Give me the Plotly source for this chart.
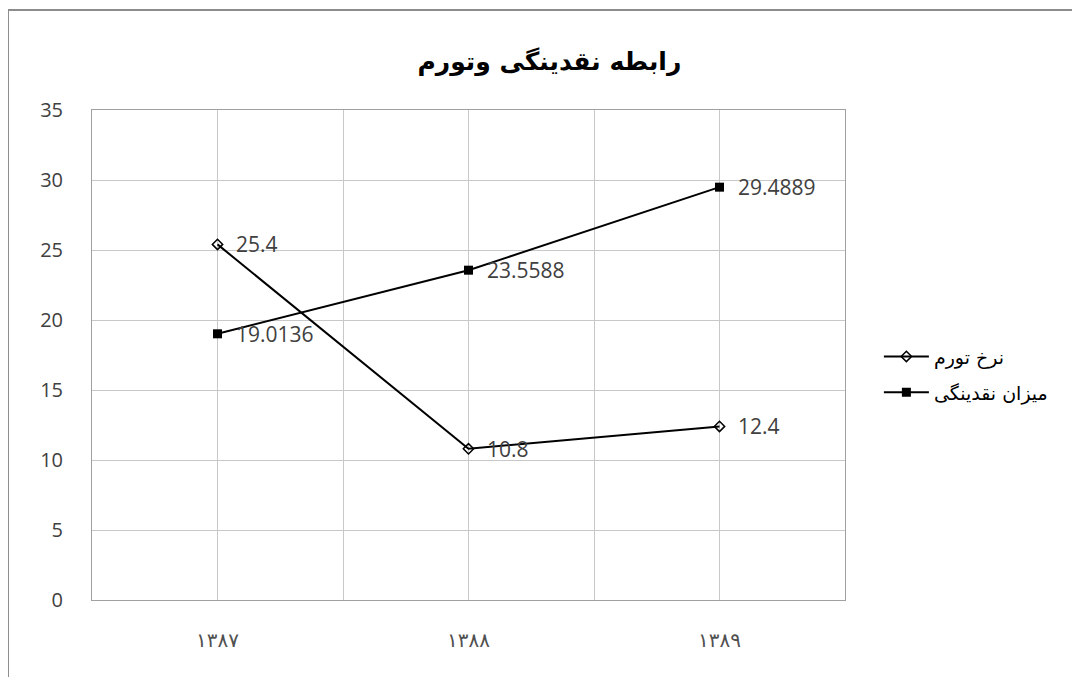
import plotly.graph_objects as go

categories = ["۱۳۸۷", "۱۳۸۸", "۱۳۸۹"]
inflation = [25.4, 10.8, 12.4]
liquidity = [19.0136, 23.5588, 29.4889]
series_names = ["نرخ تورم", "میزان نقدینگی"]
title_text = "رابطه نقدینگی وتورم"

xpos = list(range(len(categories)))

fig = go.Figure()
fig.add_trace(go.Scatter(
    x=xpos, y=inflation, name=series_names[0], mode="lines+markers", legendgroup="a",
    line=dict(color="black", width=2),
    marker=dict(symbol="diamond-open", size=8, color="black", line=dict(width=1.5, color="black")),
))
fig.add_trace(go.Scatter(
    x=xpos, y=liquidity, name=series_names[1], mode="lines+markers", legendgroup="b",
    line=dict(color="black", width=2),
    marker=dict(symbol="square", size=9, color="black"),
))

for series in (inflation, liquidity):
    for xi, v in zip(xpos, series):
        fig.add_annotation(x=xi, y=v, text=str(v), showarrow=False,
                           xanchor="left", yanchor="middle", xshift=16,
                           font=dict(family="Open Sans", size=21, color="#404040"))

tickvals = [i / 2 - 0.5 for i in range(2 * len(categories) + 1)]
ticktext = []
for t in tickvals:
    if float(t).is_integer():
        ticktext.append(categories[int(t)])
    else:
        ticktext.append("")

fig.update_layout(
    width=1072, height=669,
    margin=dict(l=84, r=235, t=102, b=77),
    paper_bgcolor="white", plot_bgcolor="white",
    title=dict(text="<b>" + title_text + "</b>", x=0.505, xanchor="center", y=0.92, yanchor="middle",
               font=dict(family="DejaVu Sans", size=25, color="black")),
    xaxis=dict(range=[-0.5, 2.5], tickvals=tickvals, ticktext=ticktext,
               showgrid=True, gridcolor="#c8c8c8", gridwidth=1,
               showline=True, linecolor="#a0a0a0", linewidth=1, mirror=True,
               ticks="outside", ticklen=22, tickcolor="rgba(0,0,0,0)",
               tickfont=dict(family="DejaVu Sans", size=20, color="#505050"),
               zeroline=False),
    yaxis=dict(range=[0, 35], dtick=5, showgrid=True, gridcolor="#c8c8c8", gridwidth=1,
               showline=True, linecolor="#a0a0a0", linewidth=1, mirror=True,
               ticks="outside", ticklen=24, tickcolor="rgba(0,0,0,0)",
               tickfont=dict(family="Open Sans", size=20, color="#404040"),
               zeroline=False),
    legend=dict(x=1.045, y=0.46, xanchor="left", yanchor="middle",
                font=dict(family="DejaVu Sans", size=19, color="black"),
                itemwidth=45, tracegroupgap=8),
    showlegend=True,
)

fig.add_shape(type="rect", xref="paper", yref="paper",
              x0=-0.1116, y0=-0.3, x1=1.4, y1=1.204,
              line=dict(color="#8c8c8c", width=2), fillcolor="rgba(0,0,0,0)", layer="below")

fig.write_html("out.html")
